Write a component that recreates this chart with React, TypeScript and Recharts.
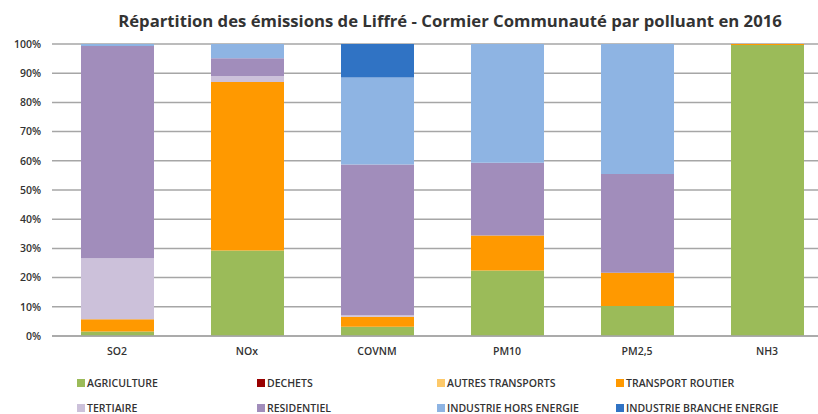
import { Bar, BarChart, CartesianGrid, XAxis, YAxis } from "recharts";

const POLLUTANTS = ["SO2", "NOx", "COVNM", "PM10", "PM2,5", "NH3"];

const AGRICULTURE = [1.5, 29.3, 3.2, 22.4, 10.3, 99.7];
const DECHETS = [0, 0, 0, 0, 0, 0];
const AUTRES_TRANSPORTS = [0, 0, 0, 0, 0, 0];
const TRANSPORT_ROUTIER = [4.2, 57.7, 3.4, 12.0, 11.4, 0.3];
const TERTIAIRE = [20.9, 2.0, 0.5, 0, 0, 0];
const RESIDENTIEL = [72.7, 6.1, 51.6, 24.9, 33.8, 0];
const INDUSTRIE_HORS = [0.7, 4.9, 29.8, 40.7, 44.5, 0];
const INDUSTRIE_BRANCHE = [0, 0, 11.5, 0, 0, 0];

const Y_TICKS = [0, 10, 20, 30, 40, 50, 60, 70, 80, 90, 100];

const SERIES = [
  { key: "agriculture", name: "AGRICULTURE", color: "#9bbb59", values: AGRICULTURE },
  { key: "dechets", name: "DECHETS", color: "#990000", values: DECHETS },
  { key: "autres", name: "AUTRES TRANSPORTS", color: "#fdc96a", values: AUTRES_TRANSPORTS },
  { key: "routier", name: "TRANSPORT ROUTIER", color: "#ff9900", values: TRANSPORT_ROUTIER },
  { key: "tertiaire", name: "TERTIAIRE", color: "#ccc1da", values: TERTIAIRE },
  { key: "residentiel", name: "RESIDENTIEL", color: "#a18dbb", values: RESIDENTIEL },
  { key: "indHors", name: "INDUSTRIE HORS ENERGIE", color: "#8eb4e3", values: INDUSTRIE_HORS },
  { key: "indBranche", name: "INDUSTRIE BRANCHE ENERGIE", color: "#3073c4", values: INDUSTRIE_BRANCHE },
];

const data = POLLUTANTS.map((p, i) => {
  const row: Record<string, string | number> = { name: p };
  SERIES.forEach((s) => (row[s.key] = s.values[i]));
  return row;
});

const FONT = "'Open Sans', 'Liberation Sans', sans-serif";
const TICK = { fontSize: 10.5, fill: "#333", fontWeight: 600, fontFamily: FONT };

export default function App() {
  return (
    <div
      style={{
        position: "absolute",
        left: 0,
        top: 0,
        width: 818,
        height: 414,
        overflow: "hidden",
        background: "#fff",
        fontFamily: FONT,
      }}
    >
      <div
        style={{
          position: "absolute",
          left: 0,
          width: 900,
          top: 9,
          textAlign: "center",
          fontSize: 16.7,
          fontWeight: 700,
          color: "#333",
        }}
      >
        Répartition des émissions de Liffré - Cormier Communauté par polluant en 2016
      </div>
      <BarChart
        width={832}
        height={414}
        data={data}
        margin={{ top: 44, right: 0, left: 0, bottom: 58 }}
        barCategoryGap={0}
      >
        <CartesianGrid vertical={false} stroke="#a6a6a6" strokeWidth={1.5} />
        <XAxis
          dataKey="name"
          height={20}
          axisLine={{ stroke: "#a6a6a6", strokeWidth: 1.5 }}
          tickLine={false}
          tickSize={0}
          tickMargin={12}
          tick={TICK}
        />
        <YAxis
          width={52}
          domain={[0, 100]}
          ticks={Y_TICKS}
          tickFormatter={(v) => `${v}%`}
          axisLine={false}
          tickLine={false}
          tickSize={0}
          tickMargin={11}
          tick={TICK}
        />
        {SERIES.map((s) => (
          <Bar
            key={s.key}
            dataKey={s.key}
            name={s.name}
            stackId="a"
            fill={s.color}
            barSize={73}
            isAnimationActive={false}
          />
        ))}
      </BarChart>
      <div
        style={{
          position: "absolute",
          left: 77,
          top: 375,
          display: "grid",
          gridTemplateColumns: "180px 180px 179px 200px",
          rowGap: 10,
          fontSize: 10.5,
          fontWeight: 600,
          color: "#333",
        }}
      >
        {SERIES.map((s) => (
          <div key={s.key} style={{ display: "flex", alignItems: "center", height: 15, whiteSpace: "nowrap" }}>
            <span
              style={{
                width: 8,
                height: 8,
                flexShrink: 0,
                background: s.color,
                marginRight: 2,
                display: "inline-block",
              }}
            />
            {s.name}
          </div>
        ))}
      </div>
    </div>
  );
}
